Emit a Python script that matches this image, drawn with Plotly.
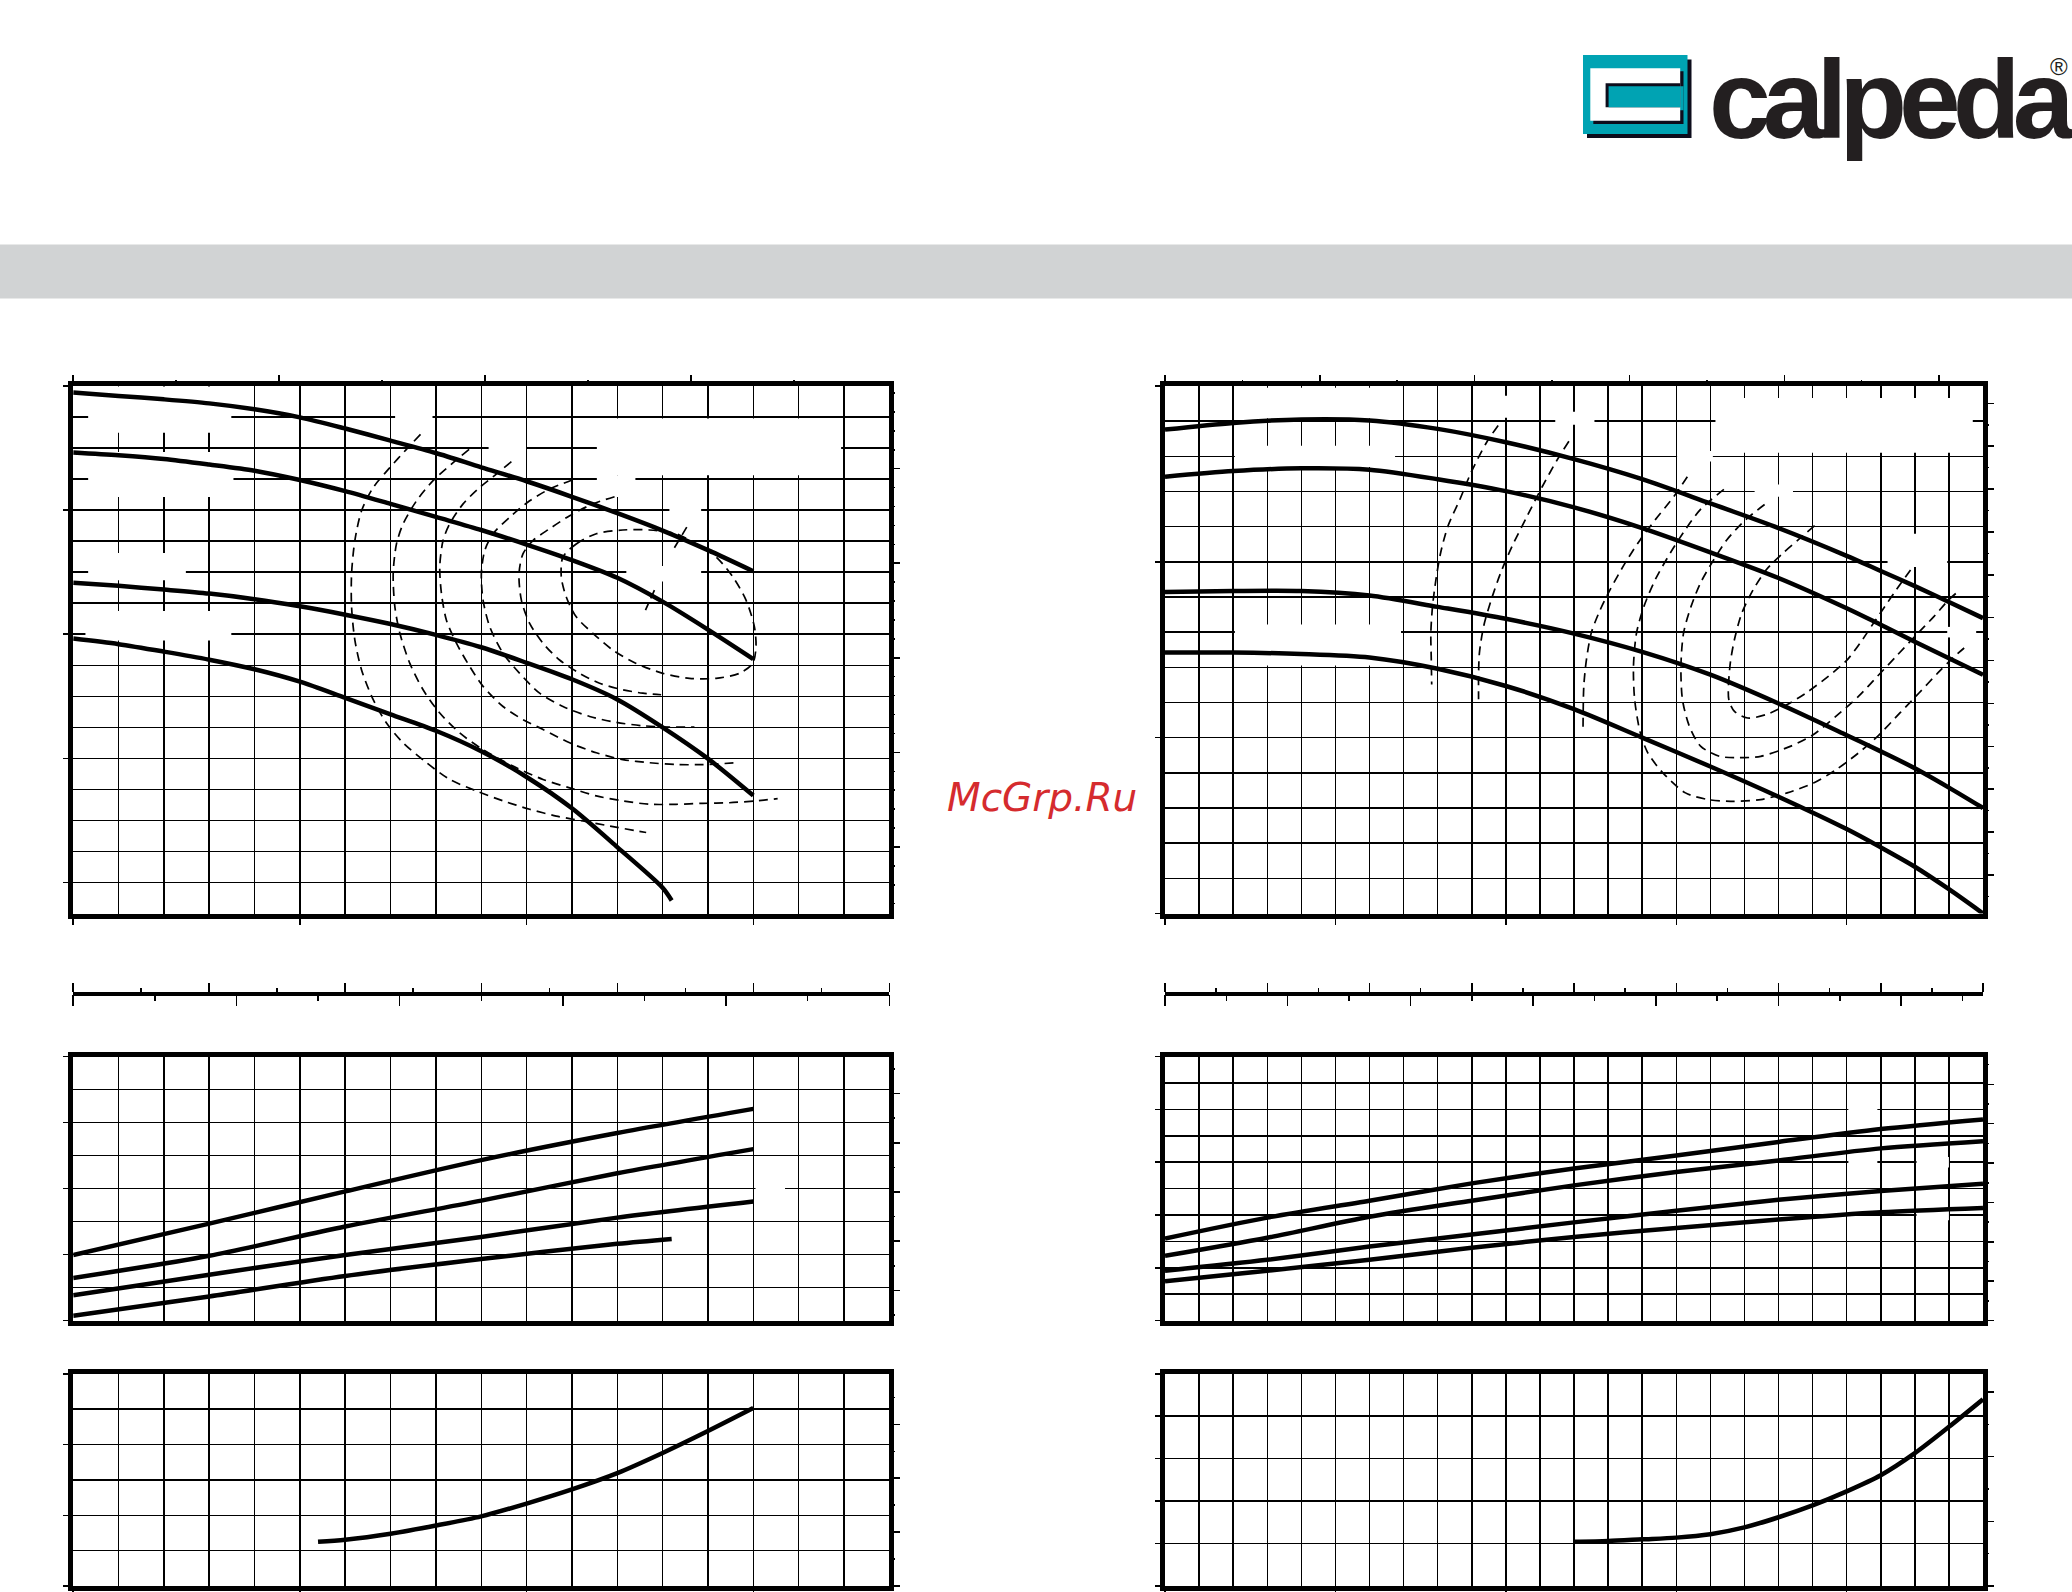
import plotly.graph_objects as go

W, H = 2072, 1592
def fx(x): return x / W
def fy(y): return 1 - y / H

# unit conversions for the secondary scales
GPM = 4.40287        # US gpm per m3/h
LMIN = 1000 / 60     # l/min per m3/h
LS = 1 / 3.6         # l/s per m3/h
FT = 1 / 0.3048      # ft per m
HP = 1 / 0.7457      # HP per kW

# ================= LEFT PUMP =================
L_Q = [0, 4, 8, 12, 16, 20, 24, 28, 32, 36, 40, 44, 48, 52, 56, 60]
L_H1 = [23.79, 23.68, 23.57, 23.44, 23.25, 22.99, 22.63, 22.24, 21.84, 21.38, 20.93, 20.43, 19.90, 19.34, 18.71, 18.03]
L_H2 = [21.86, 21.77, 21.65, 21.47, 21.27, 20.97, 20.61, 20.20, 19.78, 19.36, 18.89, 18.39, 17.82, 17.05, 16.15, 15.20]
L_H3 = [17.66, 17.56, 17.44, 17.31, 17.13, 16.90, 16.63, 16.33, 15.98, 15.58, 15.08, 14.55, 13.90, 13.00, 11.99, 10.80]
L_Q4 = [0, 4, 8, 12, 16, 20, 24, 28, 32, 36, 40, 44, 48, 52, 52.8]
L_H4 = [15.86, 15.68, 15.44, 15.18, 14.87, 14.47, 13.95, 13.42, 12.89, 12.23, 11.40, 10.39, 9.14, 7.83, 7.42]

# iso-efficiency (dashed)
L_E1_Q = [30.64, 29.40, 27.94, 26.47, 25.44, 24.85, 24.56, 24.56, 24.85, 25.44, 26.47, 27.64, 29.11, 31.17, 33.22, 35.57, 37.92, 40.27, 42.62, 44.97, 47.32, 50.55]
L_E1_H = [22.44, 21.96, 21.37, 20.73, 19.98, 19.02, 17.95, 16.88, 15.81, 14.85, 13.89, 13.14, 12.50, 11.86, 11.32, 10.95, 10.63, 10.36, 10.14, 9.98, 9.82, 9.61]
L_E2_Q = [34.93, 33.52, 31.75, 30.29, 29.11, 28.52, 28.23, 28.38, 28.82, 29.70, 30.87, 32.34, 34.10, 36.16, 38.80, 41.45, 43.80, 46.15, 48.49, 50.84, 53.19, 55.54, 57.89, 60.24, 62.15]
L_E2_H = [21.96, 21.53, 20.95, 20.30, 19.56, 18.91, 17.95, 16.88, 16.03, 15.06, 14.21, 13.46, 12.82, 12.28, 11.75, 11.32, 11.05, 10.79, 10.63, 10.52, 10.52, 10.55, 10.57, 10.63, 10.70]
L_E3_Q = [38.66, 37.33, 35.87, 34.40, 33.22, 32.63, 32.34, 32.49, 32.93, 33.81, 34.98, 36.16, 37.92, 39.68, 41.45, 43.80, 46.15, 48.49, 50.84, 53.19, 55.54, 58.63]
L_E3_H = [21.56, 21.16, 20.73, 20.20, 19.56, 19.02, 18.17, 17.31, 16.45, 15.71, 14.96, 14.32, 13.67, 13.25, 12.93, 12.50, 12.18, 11.96, 11.86, 11.80, 11.80, 11.86]
L_E4_Q = [44.03, 42.03, 40.27, 38.51, 37.04, 36.31, 36.01, 36.16, 36.75, 37.92, 39.39, 41.15, 43.21, 45.56, 47.91, 50.26, 52.61, 54.81]
L_E4_H = [20.97, 20.68, 20.30, 19.77, 19.24, 18.70, 17.95, 17.10, 16.24, 15.39, 14.74, 14.10, 13.67, 13.35, 13.16, 13.05, 13.01, 13.01]
L_E5_Q = [47.76, 45.85, 43.80, 42.03, 40.56, 39.68, 39.33, 39.54, 40.27, 41.45, 42.91, 44.68, 46.44, 48.49, 50.26, 51.87]
L_E5_H = [20.43, 20.20, 19.82, 19.40, 19.02, 18.59, 17.95, 17.10, 16.35, 15.71, 15.17, 14.74, 14.42, 14.21, 14.10, 14.05]
L_E6_Q = [43.21, 44.38, 46.15, 48.49, 50.84, 53.19, 54.96, 56.72, 58.19, 59.36, 60.10, 60.24, 59.95, 58.78, 56.72, 54.37, 52.02, 49.67, 47.61, 45.85, 44.38, 43.50, 43.06, 43.21]
L_E6_H = [18.49, 18.91, 19.24, 19.36, 19.36, 19.24, 18.91, 18.49, 17.85, 17.10, 16.24, 15.60, 15.06, 14.74, 14.58, 14.58, 14.74, 15.06, 15.49, 16.03, 16.56, 17.20, 17.85, 18.49]
L_M1_Q = [54.13, 52.90]
L_M1_H = [19.45, 18.70]
L_M2_Q = [51.28, 50.49]
L_M2_H = [17.42, 16.78]

# power (kW)
LP_Q = [0, 12, 24, 36, 48, 60]
LP_1 = [3.997, 4.235, 4.479, 4.716, 4.921, 5.104]
LP_2 = [3.823, 3.991, 4.213, 4.409, 4.616, 4.799]
LP_3 = [3.692, 3.848, 3.997, 4.134, 4.280, 4.402]
LP_Q4 = [0, 12, 24, 36, 48, 52.8]
LP_4 = [3.537, 3.683, 3.838, 3.966, 4.082, 4.119]

# NPSH (m)
LN_Q = [21.6, 24, 28, 32, 36, 40, 44, 48, 52, 56, 60]
LN_V = [1.25, 1.31, 1.48, 1.71, 1.97, 2.33, 2.73, 3.19, 3.76, 4.38, 5.03]

# ================= RIGHT PUMP =================
R_Q = [0, 8, 16, 24, 32, 40, 48, 56, 64, 72, 80, 84, 88, 92, 96]
R_H1 = [18.76, 18.95, 19.05, 19.02, 18.78, 18.40, 17.92, 17.35, 16.66, 15.96, 15.17, 14.74, 14.31, 13.86, 13.40]
R_H2 = [17.42, 17.58, 17.66, 17.62, 17.35, 17.01, 16.55, 15.96, 15.27, 14.54, 13.68, 13.21, 12.73, 12.26, 11.79]
R_H3 = [14.14, 14.17, 14.17, 14.04, 13.72, 13.38, 12.96, 12.44, 11.79, 10.97, 10.07, 9.61, 9.13, 8.58, 8.00]
R_H4 = [12.42, 12.42, 12.38, 12.28, 11.96, 11.47, 10.81, 10.00, 9.18, 8.32, 7.40, 6.88, 6.33, 5.69, 5.00]

R_EA_Q = [39.1, 37.7, 35.9, 34.6, 33.2, 32.35, 31.8, 31.4, 31.2, 31.25, 31.3]
R_EA_H = [18.88, 18.38, 17.53, 16.77, 16.01, 15.26, 14.5, 13.74, 12.98, 12.22, 11.51]
R_EB_Q = [47.4, 46.05, 44.3, 42.5, 40.75, 39.4, 38.3, 37.4, 36.9, 36.8, 36.8]
R_EB_H = [18.43, 17.91, 17.15, 16.3, 15.45, 14.69, 13.93, 13.17, 12.41, 11.75, 11.09]
R_EC_Q = [61.3, 59.76, 57.55, 55.78, 54.01, 52.24, 50.92, 50.03, 49.46, 49.15, 49.06]
R_EC_H = [17.42, 16.87, 16.2, 15.63, 14.97, 14.21, 13.55, 12.98, 12.22, 11.46, 10.23]
R_ED_Q = [65.59, 62.85, 61.08, 59.32, 57.55, 56.22, 55.34, 54.98, 55.12, 55.78, 56.66, 58.43, 61.08, 63.74, 66.39, 69.92, 73.02, 76.11, 78.76, 81.41, 83.63, 86.28, 88.49, 90.70, 92.47, 93.79]
R_ED_H = [17.06, 16.49, 15.92, 15.26, 14.50, 13.74, 12.98, 12.03, 11.08, 10.14, 9.57, 9.0, 8.43, 8.24, 8.19, 8.24, 8.43, 8.71, 9.09, 9.57, 10.04, 10.71, 11.27, 11.84, 12.27, 12.55]
R_EE_Q = [70.37, 68.16, 65.95, 64.18, 62.85, 61.75, 60.86, 60.55, 60.73, 61.53, 62.85, 65.06, 67.27, 69.92, 73.46, 76.11, 78.76, 81.41, 83.63, 85.84, 88.05, 90.26, 92.02, 93.35]
R_EE_H = [16.63, 16.20, 15.63, 14.97, 14.40, 13.74, 12.98, 12.03, 11.08, 10.33, 9.76, 9.47, 9.43, 9.47, 9.76, 10.09, 10.61, 11.18, 11.75, 12.32, 12.89, 13.45, 13.93, 14.21]
R_EF_Q = [76.24, 74.34, 72.58, 70.59, 69.04, 67.71, 66.83, 66.30, 66.17, 66.83, 68.38, 70.59, 73.02, 75.23, 77.88, 80.09, 81.86, 83.18, 84.51, 85.84, 87.82]
R_EF_H = [16.03, 15.63, 15.26, 14.78, 14.21, 13.55, 12.79, 12.03, 11.08, 10.75, 10.56, 10.66, 10.94, 11.27, 11.75, 12.22, 12.79, 13.27, 13.74, 14.21, 14.88]

RP_Q = [0, 12, 24, 36, 48, 60, 72, 84, 96]
RP_1 = [1.555, 1.951, 2.271, 2.599, 2.881, 3.125, 3.384, 3.628, 3.811]
RP_2 = [1.227, 1.570, 1.966, 2.271, 2.561, 2.813, 3.034, 3.262, 3.399]
RP_3 = [0.945, 1.151, 1.402, 1.631, 1.860, 2.081, 2.287, 2.454, 2.591]
RP_4 = [0.747, 0.945, 1.151, 1.380, 1.585, 1.753, 1.913, 2.050, 2.134]

RN_Q = [48, 52, 56, 60, 64, 68, 72, 76, 80, 84, 88, 92, 96]
RN_V = [1.04, 1.06, 1.10, 1.14, 1.22, 1.38, 1.62, 1.90, 2.23, 2.61, 3.13, 3.75, 4.40]

# axis ranges
L_QMAX, R_QMAX = 72, 96
L_HR, R_HR = [7, 24], [5, 20]
L_PR, R_PR = [3.5, 5.5], [0, 5]
L_NR, R_NR = [0, 6], [0, 5]

# ================= LAYOUT GEOMETRY =================
LD = [fx(73.2), fx(889.3)]
RD = [fx(1165.0), fx(1983.0)]
TOPD = [fy(913.5), fy(386.0)]
POWD = [fy(1320.6), fy(1056.6)]
NPD = [fy(1586.0), fy(1373.8)]
SY = fy(994.0)

GW = 1.5
def grid_minor(d):
    return dict(dtick=d, showgrid=True, gridcolor='black', gridwidth=GW, ticks='')

def main_x(domain, anchor, rng, ticks):
    return dict(domain=domain, anchor=anchor, range=rng, showline=True, mirror=True,
                linewidth=5, linecolor='black', showgrid=True, gridcolor='black', gridwidth=GW,
                tick0=0, dtick=20, ticks='outside' if ticks else '', ticklen=6, tickwidth=1.5,
                tickcolor='black', showticklabels=False, zeroline=False, minor=grid_minor(4))

def main_y(domain, anchor, rng, dtick, minor):
    d = dict(domain=domain, anchor=anchor, range=rng, showline=True, mirror=True,
             linewidth=5, linecolor='black', showgrid=True, gridcolor='black', gridwidth=GW,
             tick0=0, dtick=dtick, ticks='outside', ticklen=5, tickwidth=1.5, tickcolor='black',
             showticklabels=False, zeroline=False)
    if minor:
        d['minor'] = grid_minor(minor)
    return d

def sec_axis(overlay, anchor, side, rng, dtick, minor, long_len=10, short_len=5,
             position=None, line=False):
    d = dict(overlaying=overlay, anchor=anchor, side=side, range=rng, showgrid=False,
             showline=line, linewidth=4, linecolor='black', zeroline=False, showticklabels=False,
             tick0=0, dtick=dtick, ticks='outside', ticklen=long_len, tickwidth=1.5,
             tickcolor='black',
             minor=dict(dtick=minor, ticks='outside', ticklen=short_len, tickwidth=1.5,
                        tickcolor='black', showgrid=False))
    if position is not None:
        d['position'] = position
    return d

layout = dict(
    width=W, height=H, autosize=False,
    margin=dict(l=0, r=0, t=0, b=0, pad=0, autoexpand=False),
    paper_bgcolor='white', plot_bgcolor='white', showlegend=False,
    # ---- left column ----
    xaxis=main_x(LD, 'y', [0, L_QMAX], True),
    yaxis=main_y(TOPD, 'x', L_HR, 4, 1),
    xaxis2=sec_axis('x', 'y', 'top', [0, L_QMAX * GPM], 80, 40),
    yaxis2=sec_axis('y', 'x', 'right', [L_HR[0] * FT, L_HR[1] * FT], 10, 2),
    xaxis3=sec_axis('x', 'free', 'top', [0, L_QMAX * LMIN], 200, 100, 9, 4.5, SY, True),
    xaxis4=sec_axis('x', 'free', 'bottom', [0, L_QMAX * LS], 4, 2, 11, 6, SY, False),
    xaxis5=main_x(LD, 'y4', [0, L_QMAX], False),
    yaxis4=main_y(POWD, 'x5', L_PR, 0.5, 0.25),
    yaxis5=sec_axis('y4', 'x5', 'right', [L_PR[0] * HP, L_PR[1] * HP], 0.5, 0.25),
    xaxis6=main_x(LD, 'y6', [0, L_QMAX], True),
    yaxis6=main_y(NPD, 'x6', L_NR, 2, 1),
    yaxis7=sec_axis('y6', 'x6', 'right', [L_NR[0] * FT, L_NR[1] * FT], 5, 2.5),
    # ---- right column ----
    xaxis7=main_x(RD, 'y8', [0, R_QMAX], True),
    yaxis8=main_y(TOPD, 'x7', R_HR, 5, 1),
    xaxis8=sec_axis('x7', 'y8', 'top', [0, R_QMAX * GPM], 80, 40),
    yaxis9=sec_axis('y8', 'x7', 'right', [R_HR[0] * FT, R_HR[1] * FT], 4, 2),
    xaxis9=sec_axis('x7', 'free', 'top', [0, R_QMAX * LMIN], 200, 100, 9, 4.5, SY, True),
    xaxis10=sec_axis('x7', 'free', 'bottom', [0, R_QMAX * LS], 4, 2, 11, 6, SY, False),
    xaxis11=main_x(RD, 'y11', [0, R_QMAX], False),
    yaxis11=main_y(POWD, 'x11', R_PR, 1, 0.5),
    yaxis12=sec_axis('y11', 'x11', 'right', [R_PR[0] * HP, R_PR[1] * HP], 1, 0.5),
    xaxis12=main_x(RD, 'y13', [0, R_QMAX], True),
    yaxis13=main_y(NPD, 'x12', R_NR, 1, None),
    yaxis14=sec_axis('y13', 'x12', 'right', [R_NR[0] * FT, R_NR[1] * FT], 5, 2.5),
)

fig = go.Figure(layout=layout)

def curve(x, y, xa, ya, dashed=False):
    fig.add_trace(go.Scatter(
        x=x, y=y, xaxis=xa, yaxis=ya, mode='lines', hoverinfo='skip', showlegend=False,
        line=dict(color='black', width=1.7 if dashed else 4.5,
                  dash='9px,6px' if dashed else 'solid', shape='spline', smoothing=0.8)))

def dummy(xa, ya, x, y):
    fig.add_trace(go.Scatter(x=[x], y=[y], xaxis=xa, yaxis=ya, mode='markers',
                             marker=dict(size=1, opacity=0), hoverinfo='skip', showlegend=False))

# left
for q, h in [(L_E1_Q, L_E1_H), (L_E2_Q, L_E2_H), (L_E3_Q, L_E3_H), (L_E4_Q, L_E4_H),
             (L_E5_Q, L_E5_H), (L_E6_Q, L_E6_H), (L_M1_Q, L_M1_H), (L_M2_Q, L_M2_H)]:
    curve(q, h, 'x', 'y', True)
for h in [L_H1, L_H2, L_H3]:
    curve(L_Q, h, 'x', 'y')
curve(L_Q4, L_H4, 'x', 'y')
dummy('x2', 'y', 1, 10)
dummy('x', 'y2', 1, L_HR[0] * FT + 1)
dummy('x3', 'y', 1, 10)
dummy('x4', 'y', 1, 10)
for p in [LP_1, LP_2, LP_3]:
    curve(LP_Q, p, 'x5', 'y4')
curve(LP_Q4, LP_4, 'x5', 'y4')
dummy('x5', 'y5', 1, L_PR[0] * HP + 0.1)
curve(LN_Q, LN_V, 'x6', 'y6')
dummy('x6', 'y7', 1, 1)

# right
for q, h in [(R_EA_Q, R_EA_H), (R_EB_Q, R_EB_H), (R_EC_Q, R_EC_H), (R_ED_Q, R_ED_H),
             (R_EE_Q, R_EE_H), (R_EF_Q, R_EF_H)]:
    curve(q, h, 'x7', 'y8', True)
for h in [R_H1, R_H2, R_H3, R_H4]:
    curve(R_Q, h, 'x7', 'y8')
dummy('x8', 'y8', 1, 10)
dummy('x7', 'y9', 1, R_HR[0] * FT + 1)
dummy('x9', 'y8', 1, 10)
dummy('x10', 'y8', 1, 10)
for p in [RP_1, RP_2, RP_3, RP_4]:
    curve(RP_Q, p, 'x11', 'y11')
dummy('x11', 'y12', 1, 1)
curve(RN_Q, RN_V, 'x12', 'y13')
dummy('x12', 'y14', 1, 1)

# ---- white masks where the printed labels were (grid interrupted) ----
shapes = []
def mask(xr, yr, q0, q1, v0, v1):
    shapes.append(dict(type='rect', xref=xr, yref=yr, x0=q0, x1=q1, y0=v0, y1=v1,
                       fillcolor='white', line=dict(width=0), layer='between'))

left_masks = [(1.32, 13.95, 22.49, 23.98), (28.4, 31.7, 22.9, 23.1), (36.65, 39.95, 21.9, 22.1),
              (46.2, 67.75, 21.12, 22.95), (1.32, 14.14, 20.42, 21.87), (46.2, 49.6, 20.42, 21.12),
              (52.6, 55.4, 19.9, 20.1), (1.32, 9.94, 17.74, 18.62), (48.8, 55.4, 17.7, 18.2),
              (1.08, 13.95, 15.8, 16.75)]
for m in left_masks:
    mask('x', 'y', *m)
right_masks = [(8.2, 27.0, 19.08, 19.95), (8.2, 27.0, 17.7, 18.3), (45.8, 50.4, 18.9, 19.27),
               (38.8, 41.2, 19.1, 19.72), (64.6, 94.8, 18.1, 19.66), (69.2, 73.7, 16.85, 17.2),
               (60.1, 64.3, 17.85, 18.15), (84.8, 91.8, 14.85, 15.8), (8.2, 27.7, 12.05, 13.22),
               (91.8, 95.2, 12.85, 13.15)]
for m in right_masks:
    mask('x7', 'y8', *m)
mask('x5', 'y4', 60.2, 62.8, 4.45, 4.55)
mask('x11', 'y11', 80.2, 83.6, 3.9, 4.1)
mask('x11', 'y11', 80.2, 83.6, 2.9, 3.1)
mask('x11', 'y11', 88.2, 92.0, 2.9, 3.1)
mask('x11', 'y11', 88.2, 92.0, 1.9, 2.1)

# ---- header: grey band and logo ----
def prect(x0, x1, y0, y1, color, layer='above'):
    shapes.append(dict(type='rect', xref='paper', yref='paper', x0=fx(x0), x1=fx(x1),
                       y0=fy(y1), y1=fy(y0), fillcolor=color, line=dict(width=0), layer=layer))

CYAN, DARK, INK = '#00a3b3', '#0d0d1c', '#231f20'
prect(0, W, 244.5, 298.6, '#d1d3d4', 'below')
prect(1587.0, 1691.5, 59.5, 138.0, DARK)
prect(1583.0, 1687.5, 55.0, 134.0, CYAN)
prect(1593.3, 1683.5, 71.3, 124.0, DARK)
prect(1608.6, 1683.5, 86.3, 110.3, CYAN)
prect(1590.3, 1680.2, 68.3, 120.8, 'white')
prect(1605.6, 1680.2, 83.3, 107.3, DARK)
prect(1608.6, 1680.2, 86.3, 107.3, CYAN)

annotations = [
    dict(text='<span style="letter-spacing:-8px">calpeda</span>', x=fx(1892.0), y=fy(99.5),
         xref='paper', yref='paper', xanchor='center', yanchor='middle', showarrow=False,
         font=dict(family='Liberation Sans', size=111, color=INK, weight='bold')),
    dict(text='®', x=fx(2059), y=fy(66), xref='paper', yref='paper',
         xanchor='center', yanchor='middle', showarrow=False,
         font=dict(family='Liberation Sans', size=24, color=INK)),
    dict(text='McGrp.Ru', x=fx(1041.5), y=fy(797.5), xref='paper', yref='paper',
         xanchor='center', yanchor='middle', showarrow=False,
         font=dict(family='DejaVu Sans', size=39, color='#d52b2e', style='italic')),
]

fig.update_layout(shapes=shapes, annotations=annotations)

fig.write_html("out.html", config={'displayModeBar': False, 'staticPlot': True},
               post_script="document.body.style.margin='0';document.body.style.overflow='hidden';")
